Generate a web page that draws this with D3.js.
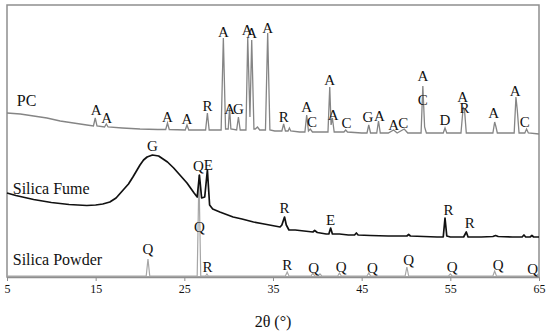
<!DOCTYPE html>
<html>
<head>
<meta charset="utf-8">
<script src="https://cdn.jsdelivr.net/npm/d3@7"></script>
<style>
  body { margin: 0; background: #fff; }
  svg text { font-family: "Liberation Serif", "Times New Roman", serif; fill: #111; }
</style>
</head>
<body>
<div id="xrd"></div>
<script>

// XRD patterns, [2theta, intensity a.u.]
var pcPattern = [
  [5,164],[6.5,163],[8,161],[9.5,159],[11,156],[12.5,154],[14,152],
  [14.75,151],[14.95,159],[15.15,151],
  [16.0,150],[16.2,153],[16.4,150],
  [18,149],[20,148],[22,147.5],
  [22.9,147.5],[23.1,154],[23.3,147.5],
  [25.1,147],[25.3,152],[25.5,147],
  [27.4,147],[27.6,164],[27.8,147],
  [29.15,147],[29.4,239],[29.65,148],
  [29.95,148],[30.1,169],[30.25,148],
  [30.9,147],[31.1,160],[31.3,147],
  [31.95,147],[32.15,239],[32.4,160],[32.6,237],[32.85,148],
  [33.0,148],[33.25,150],[33.5,147],
  [34.15,147],[34.4,244],[34.65,147],
  [35.2,146],[36.0,146],[36.2,153],[36.4,146],[36.7,146],[36.85,149],[37.0,146],
  [38.0,145],[38.6,145],[38.8,162],[39.0,146],[39.2,148],[39.45,145],
  [40.5,145],[41.2,145],[41.4,190],[41.55,152],[41.7,159],[41.9,145],
  [43.0,145],[43.2,147],[43.4,145],
  [45.0,144],[45.6,144],[45.8,152],[46.0,144],[46.7,144],[46.9,156],[47.1,144],
  [48.0,144],[48.6,147],[49.0,144],[49.8,148],[50.2,144],
  [51.0,144],[51.7,144],[51.9,191],[52.0,170],[52.1,150],[52.3,144],
  [53.5,144],[54.2,144],[54.4,149],[54.6,144],
  [56.2,144],[56.45,170],[56.6,167],[56.8,144],
  [57.5,144],[59.8,144],[60.0,155],[60.15,150],[60.3,144],
  [61.5,144],[62.2,144],[62.4,180],[62.55,167],[62.75,144],
  [63.4,144],[63.6,148],[63.8,144],[65,143]
];

var fumePattern = [
  [5,84],[6,81.5],[7,79.5],[8,77.5],[9,76],[10,74.5],[11,73.5],[12,72.5],[13,72],[14,71.5],
  [15,72],[15.8,73],[16.6,75],[17.3,79],[18.1,87],[18.7,93],[19.2,100],
  [19.6,106],[20.0,112],[20.4,117],[20.8,120],[21.4,122],[22.1,121],[22.6,118],
  [23.1,115],[23.8,109],[24.3,104],[24.8,99],[25.3,94],[25.7,89],[26.1,84],
  [26.45,80],[26.7,102],[26.95,79],[27.3,80],[27.6,107],[27.85,72],[28.2,68],
  [29,65],[30.5,60],[31.5,58],[32.8,55],[34,53],[35.2,51],[35.8,50],[36.0,52],
  [36.15,56],[36.3,60],[36.5,52],[36.8,47],[37.5,47],[38.5,46],[39.5,45],[39.7,46.5],
  [40.0,44.5],[41.0,43],[41.3,43],[41.5,49],[41.7,43],[42.5,43],[43.5,42],[44.2,42],
  [44.4,44],[44.6,42],[46,41.5],[48,41],[50.1,41],[50.3,42.5],[50.5,41],[52,40.5],
  [53.5,40],[54.2,40],[54.4,59],[54.6,41],[55,40],[56.5,40],[56.8,45],[57.0,40],
  [58.5,40],[59.8,40.5],[60.1,41.5],[60.4,40.5],[62,40],[63.1,40],[63.3,42],
  [63.5,40],[64.0,40],[64.2,41.5],[64.4,40],[65,40]
];

var powderPattern = [
  [5,1],[20.7,1],[20.9,18],[21.1,1],[26.45,1],[26.65,102],[26.85,1],[27.4,1],
  [27.55,3],[27.7,1],[36.4,1],[36.6,5],[36.8,1],[39.3,1],[39.5,4],[39.7,1],
  [40.1,1],[40.3,3],[40.5,1],[42.3,1],[42.5,4],[42.7,1],[45.6,1],[45.8,4],[46.0,1],
  [49.9,1],[50.1,10],[50.3,1],[54.8,1],[55.0,3],[55.2,1],[59.8,1],[60.0,6],
  [60.2,1],[64.7,1],[64.9,3],[65,1]
];

// phase labels: [letter, 2theta, intensity of text baseline]
var pcPhases = [
  ["A",15.05,162],["A",16.25,154],["A",23.1,155],["A",25.3,153],["R",27.6,166],
  ["A",29.4,240],["A",30.1,163],["G",31.1,163],["A",32.1,242],["A",32.6,239],
  ["A",34.4,244],["R",36.2,155],["A",38.8,165],["C",39.4,150],["A",41.4,192],
  ["A",41.8,157],["C",43.3,149],["G",45.7,155],["A",47.0,156],["A",48.6,147],
  ["C",49.7,149],["A",51.9,196],["C",51.9,172],["D",54.4,152],["A",56.4,175],
  ["R",56.6,164],["A",59.9,159],["A",62.3,181],["C",63.4,150]
];
var fumePhases = [
  ["G",21.4,126],["Q",26.6,106],["E",27.7,107],["R",36.3,64],["E",41.5,52],
  ["R",54.8,62],["R",57.2,49]
];
var powderPhases = [
  ["Q",20.9,23],["Q",26.7,45],["R",27.6,5],["R",36.6,7],["Q",39.6,4],["Q",42.7,5],
  ["Q",46.2,4],["Q",50.3,12],["Q",55.2,5],["Q",60.4,7],["Q",64.3,3]
];

var sampleNames = ["PC", "Silica Fume", "Silica Powder"];
var sampleNameLevels = [171, 83, 12];
var xTicks = [5, 15, 25, 35, 45, 55, 65];

// set the dimensions and margins of the graph
var margin = {top: 5, right: 11, bottom: 57, left: 7},
    width = 550 - margin.left - margin.right,
    height = 334 - margin.top - margin.bottom;

var svg = d3.select("#xrd")
  .append("svg")
    .attr("width", width + margin.left + margin.right)
    .attr("height", height + margin.top + margin.bottom)
  .append("g")
    .attr("transform", "translate(" + margin.left + "," + margin.top + ")");

var x = d3.scaleLinear().domain([5, 65]).range([0, width]);
var y = d3.scaleLinear().domain([0, 272]).range([height, 0]);

// frame
svg.append("rect")
  .attr("width", width)
  .attr("height", height)
  .attr("fill", "none")
  .attr("stroke", "#8e8e8e")
  .attr("stroke-width", 1.5);

// X axis
var xAxis = svg.append("g")
  .attr("transform", "translate(0," + height + ")")
  .call(d3.axisBottom(x).tickValues(xTicks).tickSize(4).tickSizeOuter(0).tickPadding(3));
xAxis.attr("font-family", "Liberation Serif");
xAxis.select(".domain").attr("stroke", "#8e8e8e").attr("stroke-width", 1.5);
xAxis.selectAll(".tick line").attr("stroke", "#8e8e8e");
xAxis.selectAll(".tick text")
  .attr("font-size", 12)
  .attr("fill", "#111");

svg.append("text")
  .attr("x", width / 2)
  .attr("y", height + 50)
  .attr("text-anchor", "middle")
  .attr("font-size", 16)
  .text("2θ (°)");

var line = d3.line()
  .x(function(d) { return x(d[0]); })
  .y(function(d) { return y(d[1]); });

svg.append("path").datum(powderPattern)
  .attr("d", line).attr("fill", "none")
  .attr("stroke", "#a6a6a6").attr("stroke-width", 1.2);

svg.append("path").datum(fumePattern)
  .attr("d", line).attr("fill", "none")
  .attr("stroke", "#111").attr("stroke-width", 1.7)
  .attr("stroke-linejoin", "round");

svg.append("path").datum(pcPattern)
  .attr("d", line).attr("fill", "none")
  .attr("stroke", "#858585").attr("stroke-width", 1.3);

// phase letters
[pcPhases, fumePhases, powderPhases].forEach(function(set) {
  svg.selectAll(null)
    .data(set)
    .enter()
    .append("text")
      .attr("x", function(d) { return x(d[1]); })
      .attr("y", function(d) { return y(d[2]); })
      .attr("text-anchor", "middle")
      .attr("font-size", 15)
      .text(function(d) { return d[0]; });
});

// sample names
svg.selectAll(null)
  .data(sampleNames)
  .enter()
  .append("text")
    .attr("x", function(d, i) { return i == 0 ? x(6.1) : x(5.65); })
    .attr("y", function(d, i) { return y(sampleNameLevels[i]); })
    .attr("font-size", 16)
    .text(function(d) { return d; });

</script>
</body>
</html>
